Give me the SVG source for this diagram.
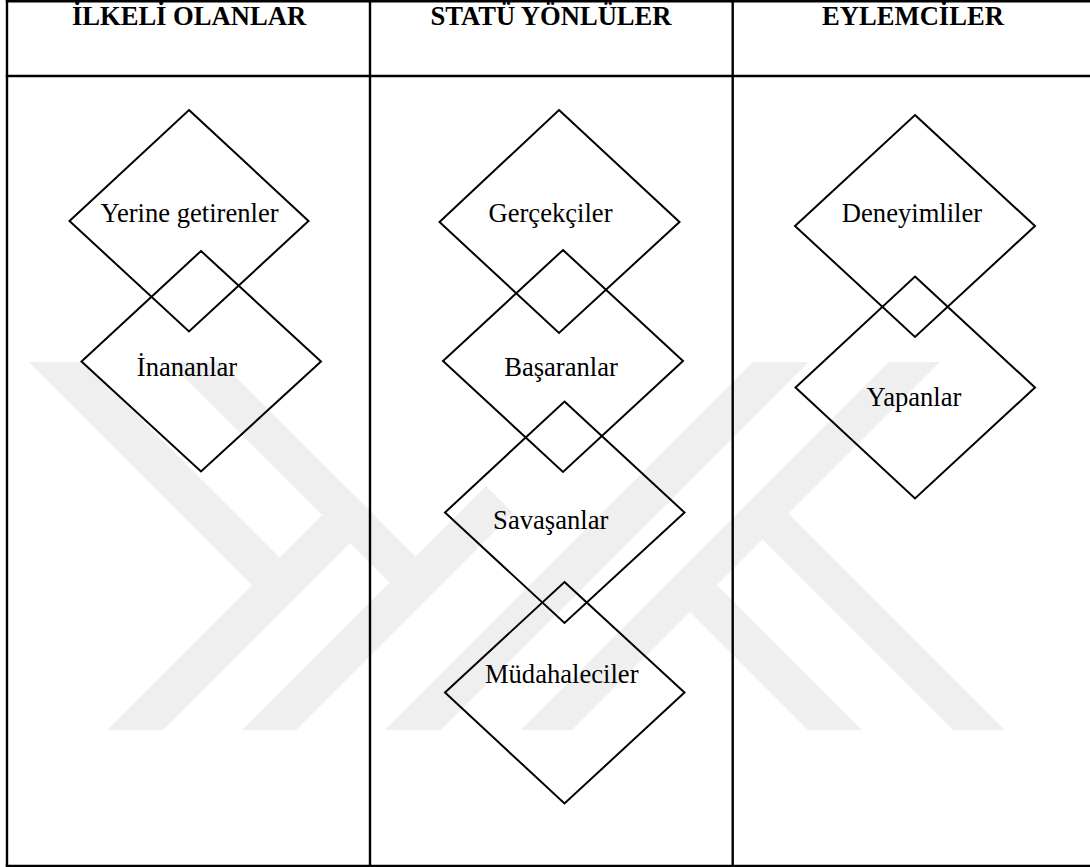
<svg xmlns="http://www.w3.org/2000/svg" width="1090" height="867" viewBox="0 0 1090 867">
  <style>
    .wm { fill: #efefef; stroke: none; }
    .grid { stroke: #000; stroke-width: 2.4; fill: none; }
    .dia { fill: none; stroke: #000; stroke-width: 2; stroke-linejoin: miter; }
    .hd { font-family: "Liberation Serif", "Times New Roman", serif; font-size: 26.6px; font-weight: bold; fill: #000; text-anchor: middle; }
    .lb { font-family: "Liberation Serif", "Times New Roman", serif; font-size: 26.6px; fill: #000; text-anchor: middle; }
  </style>
  <rect x="0" y="0" width="1090" height="867" fill="#fff"/>

  <g id="watermark">
    <polygon class="wm" points="29,362 84,362 279.5,557.5 252,585"/>
    <polygon class="wm" points="107,730 163,730 376,517 348,489"/>
    <polygon class="wm" points="169,362 221,362 415.5,556.5 389.5,582.5"/>
    <polygon class="wm" points="242,730 296,730 513,513 486,486"/>
    <polygon class="wm" points="753,362 809,362 441,730 385,730"/>
    <polygon class="wm" points="889,362 940,362 572,730 521,730"/>
    <polygon class="wm" points="690,612 717,585 862,730 808,730"/>
    <polygon class="wm" points="762.5,539.5 788.5,513.5 1005,730 953,730"/>
  </g>

  <g id="table">
    <line class="grid" x1="5.8" y1="1.3" x2="1090" y2="1.3"/>
    <line class="grid" x1="5.8" y1="76" x2="1090" y2="76"/>
    <line class="grid" x1="5.8" y1="866" x2="1090" y2="866"/>
    <line class="grid" x1="7" y1="0" x2="7" y2="867"/>
    <line class="grid" x1="370" y1="0" x2="370" y2="867"/>
    <line class="grid" x1="732.7" y1="0" x2="732.7" y2="867"/>
  </g>

  <g id="headers">
    <text id="h1" class="hd" x="189" y="25">İLKELİ OLANLAR</text>
    <text id="h2" class="hd" x="551" y="25">STATÜ YÖNLÜLER</text>
    <text id="h3" class="hd" x="913" y="25">EYLEMCİLER</text>
  </g>

  <g id="connectors"></g>

  <g id="n-yerine">
    <polygon class="dia" points="189,110 308.5,221 189,331.5 69.5,221"/>
    <text class="lb" x="189.5" y="222">Yerine getirenler</text>
  </g>
  <g id="n-inananlar">
    <polygon class="dia" points="201,251 321,361.5 201,471.5 81.5,361.5"/>
    <text class="lb" x="187" y="376">İnananlar</text>
  </g>
  <g id="n-gercekciler">
    <polygon class="dia" points="559,110 679.5,222 559,333 439.5,222"/>
    <text class="lb" x="550.5" y="222">Gerçekçiler</text>
  </g>
  <g id="n-basaranlar">
    <polygon class="dia" points="563,250 683,361 563,472 443,361"/>
    <text class="lb" x="561" y="376">Başaranlar</text>
  </g>
  <g id="n-savasanlar">
    <polygon class="dia" points="564.5,401.5 684.5,512.5 564.5,623 445,512.5"/>
    <text class="lb" x="550.7" y="529">Savaşanlar</text>
  </g>
  <g id="n-mudahaleciler">
    <polygon class="dia" points="564.5,582 684.5,692.5 564.5,803.5 445,692.5"/>
    <text class="lb" x="561.7" y="682.5">Müdahaleciler</text>
  </g>
  <g id="n-deneyimliler">
    <polygon class="dia" points="915,115 1035,226 915,337 795,226"/>
    <text class="lb" x="912" y="222">Deneyimliler</text>
  </g>
  <g id="n-yapanlar">
    <polygon class="dia" points="915,276.5 1035,387.5 915,498.5 795.5,387.5"/>
    <text class="lb" x="914" y="406">Yapanlar</text>
  </g>
</svg>
